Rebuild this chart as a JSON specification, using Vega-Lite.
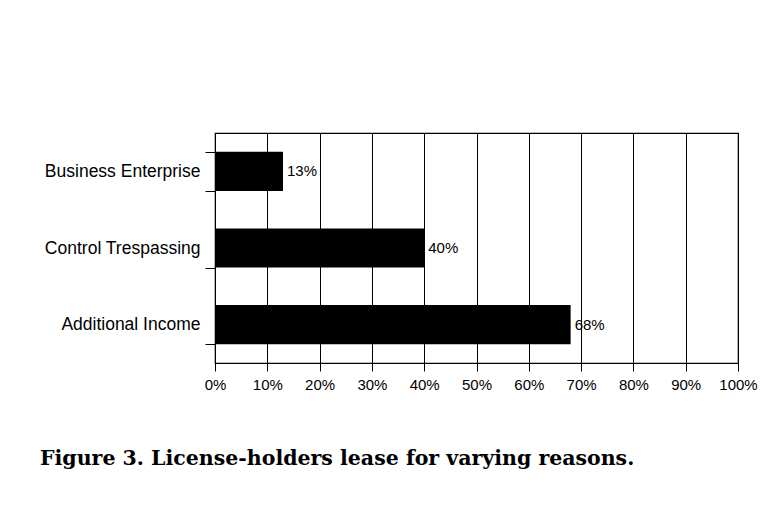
{
  "$schema": "https://vega.github.io/schema/vega-lite/v6.json",
  "width": 523,
  "height": 230,
  "autosize": "none",
  "padding": {"left": 215, "top": 133, "right": 43, "bottom": 157},
  "background": "white",
  "config": {
    "view": {"stroke": "black", "strokeWidth": 1.2},
    "font": "Liberation Sans"
  },
  "title": {
    "text": "Figure 3. License-holders lease for varying reasons.",
    "orient": "bottom",
    "anchor": "start",
    "frame": "group",
    "dx": -175,
    "offset": 57,
    "font": "DejaVu Serif",
    "fontSize": 20.5,
    "fontWeight": "bold",
    "color": "black"
  },
  "data": {
    "values": [
      {"reason": "Business Enterprise", "pct": 13, "label": "13%"},
      {"reason": "Control Trespassing", "pct": 40, "label": "40%"},
      {"reason": "Additional Income", "pct": 68, "label": "68%"}
    ]
  },
  "encoding": {
    "y": {
      "field": "reason",
      "type": "nominal",
      "sort": null,
      "scale": {"paddingInner": 0.49, "paddingOuter": 0.245},
      "axis": {
        "title": null,
        "tickBand": "extent",
        "tickSize": 10,
        "tickColor": "black",
        "domainColor": "black",
        "labelPadding": 5,
        "labelFontSize": 17.5,
        "labelColor": "black",
        "grid": false
      }
    },
    "x": {
      "field": "pct",
      "type": "quantitative",
      "scale": {"domain": [0, 100], "nice": false},
      "axis": {
        "title": null,
        "values": [0, 10, 20, 30, 40, 50, 60, 70, 80, 90, 100],
        "labelExpr": "datum.value + '%'",
        "labelOverlap": false,
        "labelFlush": false,
        "labelBound": false,
        "tickSize": 8,
        "tickColor": "black",
        "domainColor": "black",
        "gridColor": "black",
        "gridOpacity": 1,
        "grid": true,
        "labelPadding": 6,
        "labelFontSize": 15,
        "labelColor": "black"
      }
    }
  },
  "layer": [
    {"mark": {"type": "bar", "color": "black"}},
    {
      "mark": {"type": "text", "align": "left", "dx": 4, "fontSize": 15, "color": "black"},
      "encoding": {"text": {"field": "label", "type": "nominal"}}
    }
  ]
}
